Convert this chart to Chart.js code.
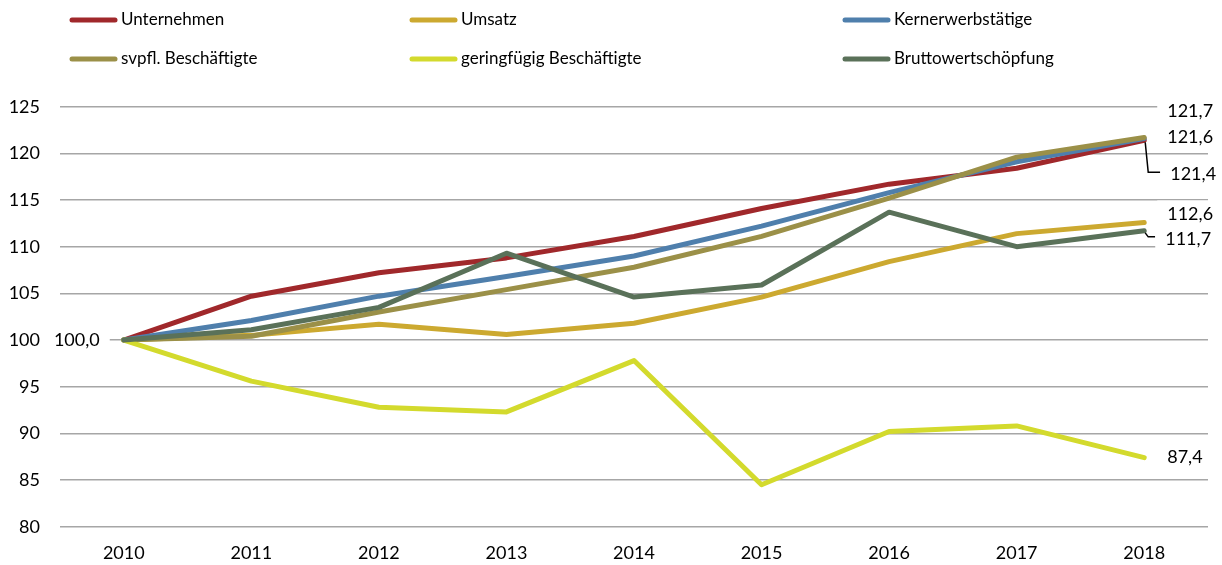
<!DOCTYPE html>
<html lang="de">
<head>
<meta charset="utf-8">
<title>Entwicklung 2010 = 100</title>
<script src="https://cdn.jsdelivr.net/npm/chart.js@4.4.1/dist/chart.umd.min.js"></script>
<style>
  html, body { margin: 0; padding: 0; background: #fff; }
  canvas { display: block; }
</style>
</head>
<body>
<canvas id="chart" width="1222" height="565"></canvas>
<script>
// Jahre (Kategorien)
const years = ['2010', '2011', '2012', '2013', '2014', '2015', '2016', '2017', '2018'];

// Indexwerte, 2010 = 100
const unternehmen = [100.0, 104.7, 107.2, 108.8, 111.1, 114.1, 116.7, 118.4, 121.4];
const umsatz = [100.0, 100.5, 101.7, 100.6, 101.8, 104.6, 108.4, 111.4, 112.6];
const kernerwerb = [100.0, 102.1, 104.7, 106.8, 109.0, 112.2, 115.8, 119.1, 121.6];
const svpfl = [100.0, 100.4, 103.0, 105.4, 107.8, 111.1, 115.2, 119.6, 121.7];
const geringfuegig = [100.0, 95.6, 92.8, 92.3, 97.8, 84.5, 90.2, 90.8, 87.4];
const brutto = [100.0, 101.1, 103.5, 109.3, 104.6, 105.9, 113.7, 110.0, 111.7];

// Achsenbeschriftung y
const yTicks = [80, 85, 90, 95, 100, 105, 110, 115, 120, 125];

const seriesNames = ['Unternehmen', 'Umsatz', 'Kernerwerbstätige',
  'svpfl. Beschäftigte', 'geringfügig Beschäftigte', 'Bruttowertschöpfung'];
const seriesData = [unternehmen, umsatz, kernerwerb, svpfl, geringfuegig, brutto];
const seriesColors = ['#A0282B', '#CCA930', '#4F7FAC', '#9B9048', '#D3DA2D', '#5A7159'];

const FONT = 'Lato, "Open Sans", sans-serif';

// Lage der Endwert-Beschriftungen relativ zum letzten Punkt
const endLabelOffsets = [
  { dx: 26, dy: 34, leader: true },  // Unternehmen
  { dx: 23, dy: -8 },                // Umsatz
  { dx: 23, dy: -1 },                // Kernerwerbstätige
  { dx: 23, dy: -26 },               // svpfl. Beschäftigte
  { dx: 23, dy: 0 },                 // geringfügig
  { dx: 21, dy: 8, leader: true }    // Bruttowertschöpfung
];

// Legende: drei Spalten, zwei Zeilen
const legendCols = [70, 410, 843];
const legendRows = [20, 59];

function fmt(v) {
  return v.toFixed(1).replace('.', ',');
}

function labelBox(ctx, text, x, y, align) {
  const w = ctx.measureText(text).width;
  const left = align === 'right' ? x - w : x;
  ctx.fillStyle = '#fff';
  ctx.fillRect(left - 10, y - 14, w + 20, 28);
  ctx.fillStyle = '#000';
  ctx.textAlign = align;
  ctx.fillText(text, x, y);
}

const valueLabels = {
  id: 'valueLabels',
  afterDatasetsDraw(chart) {
    const ctx = chart.ctx;
    ctx.save();
    ctx.font = '18px ' + FONT;
    ctx.textBaseline = 'middle';

    // Startwert links vom ersten Punkt
    const first = chart.getDatasetMeta(0).data[0];
    labelBox(ctx, fmt(chart.data.datasets[0].data[0]), first.x - 24, first.y, 'right');

    chart.data.datasets.forEach((ds, i) => {
      const meta = chart.getDatasetMeta(i);
      const last = ds.data.length - 1;
      const pt = meta.data[last];
      const off = endLabelOffsets[i];
      const lx = pt.x + off.dx;
      const ly = pt.y + off.dy;
      if (off.leader) {
        ctx.strokeStyle = '#000';
        ctx.lineWidth = 1.5;
        ctx.beginPath();
        ctx.moveTo(pt.x + 1, pt.y + 2);
        ctx.lineTo(pt.x + 4, ly - 2);
        ctx.lineTo(lx - 10, ly - 2);
        ctx.stroke();
      }
      labelBox(ctx, fmt(ds.data[last]), lx, ly, 'left');
    });
    ctx.restore();
  }
};

const gridLegend = {
  id: 'gridLegend',
  afterDraw(chart) {
    const ctx = chart.ctx;
    ctx.save();
    ctx.font = '17px ' + FONT;
    ctx.textBaseline = 'middle';
    ctx.textAlign = 'left';
    chart.data.datasets.forEach((ds, i) => {
      const x = legendCols[i % 3];
      const y = legendRows[Math.floor(i / 3)];
      ctx.strokeStyle = ds.borderColor;
      ctx.lineWidth = 5;
      ctx.lineCap = 'round';
      ctx.beginPath();
      ctx.moveTo(x + 2, y);
      ctx.lineTo(x + 45, y);
      ctx.stroke();
      ctx.fillStyle = '#000';
      ctx.fillText(ds.label, x + 51, y);
    });
    ctx.restore();
  }
};

const datasets = seriesNames.map((name, i) => ({
  label: name,
  data: seriesData[i],
  borderColor: seriesColors[i],
  backgroundColor: seriesColors[i],
  borderWidth: 5,
  borderCapStyle: 'round',
  borderJoinStyle: 'round',
  pointRadius: 0,
  tension: 0,
  order: seriesNames.length - i
}));

new Chart(document.getElementById('chart'), {
  type: 'line',
  data: { labels: years, datasets: datasets },
  options: {
    responsive: false,
    animation: false,
    events: [],
    layout: { padding: { top: 106.7, right: 14, bottom: 0, left: 0 } },
    plugins: {
      legend: { display: false },
      tooltip: { enabled: false }
    },
    scales: {
      x: {
        offset: true,
        grid: { display: false, drawTicks: false },
        border: { display: false },
        ticks: { color: '#000', font: { family: FONT, size: 18 }, padding: 16, maxRotation: 0 },
        afterFit(scale) { scale.height = 38.3; }
      },
      y: {
        min: 80,
        max: 125,
        afterBuildTicks(scale) { scale.ticks = yTicks.map(v => ({ value: v })); },
        grid: { color: '#A6A6A6', lineWidth: 1.5, drawTicks: false },
        border: { display: false },
        ticks: { color: '#000', font: { family: FONT, size: 18 }, padding: 20 },
        afterFit(scale) { scale.width = 60; }
      }
    }
  },
  plugins: [valueLabels, gridLegend]
});
</script>
</body>
</html>
